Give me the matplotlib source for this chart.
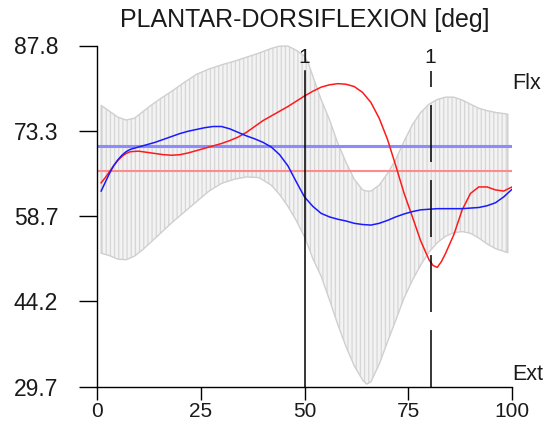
import matplotlib
matplotlib.use("Agg")
import matplotlib.pyplot as plt

plt.rcParams['font.family'] = ['Liberation Sans', 'DejaVu Sans']
plt.rcParams['lines.scale_dashes'] = False
plt.rcParams['hatch.linewidth'] = 0.9

# Normative band (mean +/- SD) over the gait cycle
band_x = [1, 3, 5, 7, 9, 11, 13, 15, 18, 21, 24, 27, 30, 33, 36, 39, 42, 44, 46,
          48, 50, 51, 52, 54, 56, 58, 60, 62, 64, 65, 66, 68, 70, 72, 74, 76, 78,
          80, 82, 84, 86, 88, 90, 92, 94, 96, 99]
band_upper = [77.6, 76.6, 75.6, 75.1, 75.4, 76.5, 77.6, 78.6, 80.0, 81.5, 82.9, 83.8,
              84.5, 85.1, 85.8, 86.5, 87.3, 87.7, 87.7, 87.0, 86.0, 84.6, 82.6, 78.6,
              75.2, 71.2, 67.9, 65.0, 63.2, 63.0, 63.0, 64.0, 66.0, 68.4, 71.5, 74.3,
              76.4, 77.8, 78.6, 79.0, 79.0, 78.5, 77.8, 77.1, 76.7, 76.4, 76.1]
band_lower = [52.4, 52.0, 51.4, 51.3, 51.9, 53.0, 54.3, 55.6, 57.6, 59.4, 61.2, 63.0,
              64.3, 65.0, 65.4, 65.3, 64.0, 62.4, 60.4, 58.0, 55.2, 53.4, 51.5, 48.5,
              44.5, 40.3, 36.5, 33.2, 30.8, 30.1, 30.5, 33.5, 37.3, 41.0, 44.8, 47.8,
              50.4, 52.6, 54.2, 55.3, 55.9, 56.1, 55.8, 55.0, 54.0, 53.2, 52.5]

# Left side (blue) and right side (red) joint angle
curve_x = [1, 2, 3, 4, 5, 6, 7, 8, 10, 12, 14, 16, 18, 20, 22, 24, 26, 28, 30, 32,
           34, 36, 38, 40, 42, 44, 46, 48, 50, 52, 54, 56, 58, 60, 62, 64, 66, 68,
           70, 72, 74, 76, 78, 80, 81, 82, 83, 84, 86, 88, 90, 92, 94, 96, 98, 100]
left_angle = [63.0, 64.5, 66.0, 67.3, 68.3, 69.1, 69.7, 70.1, 70.5, 70.9, 71.3, 71.8,
              72.3, 72.8, 73.2, 73.5, 73.8, 74.0, 74.0, 73.6, 73.0, 72.4, 71.9, 71.3,
              70.5, 69.2, 67.3, 64.6, 62.0, 60.4, 59.2, 58.6, 58.2, 57.9, 57.5, 57.3,
              57.2, 57.5, 58.0, 58.6, 59.1, 59.5, 59.8, 59.9, 59.95, 60.0, 60.0, 60.0,
              60.0, 60.0, 60.1, 60.2, 60.5, 61.0, 62.0, 63.3]
right_angle = [64.4, 65.3, 66.3, 67.3, 68.2, 68.9, 69.4, 69.7, 69.8, 69.6, 69.4, 69.2,
               69.1, 69.2, 69.5, 69.9, 70.3, 70.7, 71.1, 71.6, 72.2, 73.0, 74.0, 75.0,
               75.8, 76.6, 77.4, 78.3, 79.2, 80.0, 80.7, 81.1, 81.3, 81.2, 80.8, 79.8,
               78.1, 75.4, 71.8, 67.3, 62.6, 58.6, 54.5, 51.3, 50.3, 50.0, 51.0, 52.4,
               55.6, 59.8, 62.6, 63.7, 63.7, 63.2, 63.0, 63.7]

# Mean values over the cycle
left_mean = 70.6
right_mean = 66.4

# Foot-off events
event_x = [50.0, 80.4]
event_labels = ["1", "1"]

x_ticks = [0, 25, 50, 75, 100]
y_ticks = [29.7, 44.2, 58.7, 73.3, 87.8]
y_tick_labels = ["29.7", "44.2", "58.7", "73.3", "87.8"]

title = "PLANTAR-DORSIFLEXION [deg]"
ink = "#1a1a1a"

fig = plt.figure(figsize=(5.47, 4.21), dpi=100)
ax = fig.add_axes([97 / 547, 34.5 / 421, 415 / 547, 341 / 421])
ax.set_xlim(0, 100)
ax.set_ylim(29.7, 87.8)

# hatched band body, then its outline
ax.fill_between(band_x, band_lower, band_upper, facecolor="#f3f3f3",
                edgecolor="#d6d6d6", hatch="||||", linewidth=0, clip_on=False,
                zorder=1)
ax.fill_between(band_x, band_lower, band_upper, facecolor="none",
                edgecolor="#cfcfcf", linewidth=1.0, clip_on=False, zorder=1)

ax.axhline(left_mean, color="#8c8cff", linewidth=2.2, zorder=2)
ax.axhline(right_mean, color="#ff8c8c", linewidth=1.5, zorder=2)

ax.plot(curve_x, right_angle, color="#ff1a1a", linewidth=1.1, zorder=3)
ax.plot(curve_x, left_angle, color="#1a1aff", linewidth=1.1, zorder=3)

event_top = 83.4
ax.plot([event_x[0], event_x[0]], [29.7, event_top], color="black",
        linewidth=1.1, zorder=4, clip_on=False)
ax.plot([event_x[1], event_x[1]], [29.7, event_top], color="black",
        linewidth=1.1, dashes=(41, 13), zorder=4, clip_on=False)
for ex, lab in zip(event_x, event_labels):
    ax.text(ex, 85.7, lab, ha="center", va="center", fontsize=15, color=ink)

ax.text(100, 81.3, "Flx", ha="left", va="center", fontsize=15.5, color=ink)
ax.text(100, 31.8, "Ext", ha="left", va="center", fontsize=15.5, color=ink)

fig.text(304.5 / 547, 1 - 20 / 421, title, ha="center", va="center",
         fontsize=18, color=ink)

for side in ("top", "right"):
    ax.spines[side].set_visible(False)
for side in ("left", "bottom"):
    ax.spines[side].set_linewidth(1.0)
    ax.spines[side].set_color("black")

ax.set_xticks(x_ticks)
ax.set_xticklabels([str(t) for t in x_ticks])
ax.set_yticks(y_ticks)
ax.set_yticklabels(y_tick_labels)
ax.tick_params(axis="y", direction="out", length=13, width=1.0, pad=15,
               labelsize=16.5, labelcolor=ink)
ax.tick_params(axis="x", direction="out", length=9.4, width=1.0, pad=2,
               labelsize=15, labelcolor=ink)

fig.savefig("out.png", dpi=100)
